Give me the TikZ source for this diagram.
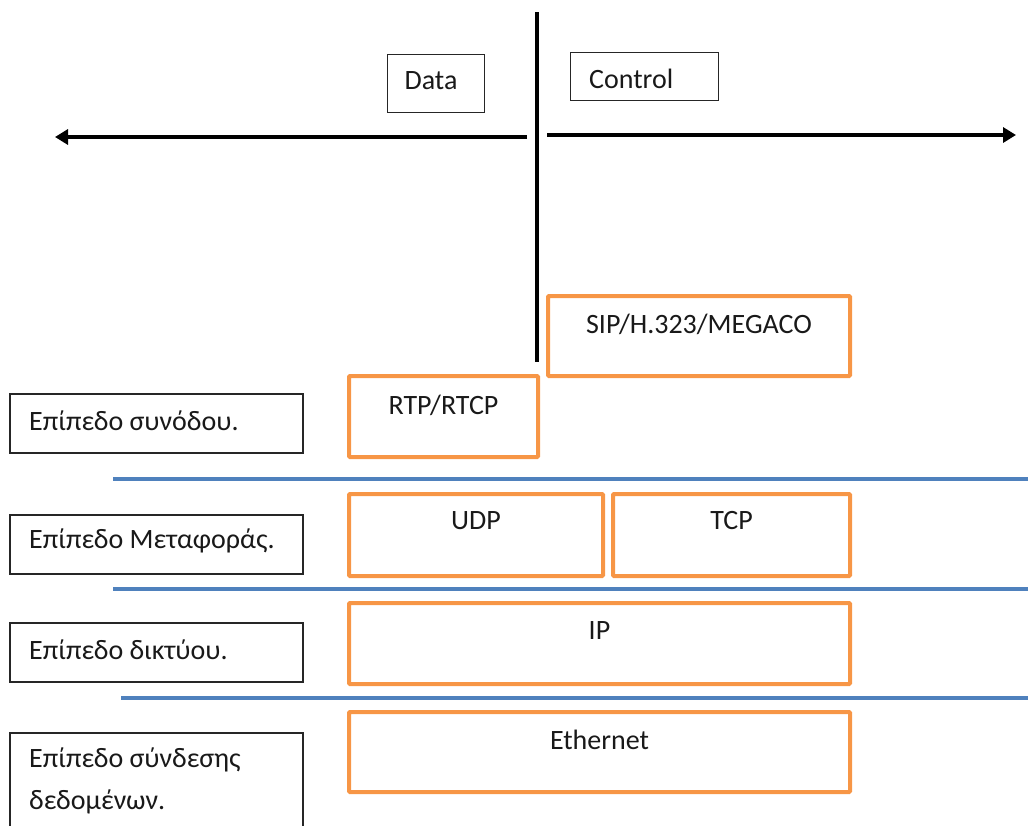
\documentclass[tikz,border=0pt]{standalone}
\usepackage{fontspec}
\setmainfont{Carlito}
\usetikzlibrary{arrows.meta,calc}
\definecolor{lorange}{RGB}{247,150,70}
\definecolor{lblue}{RGB}{79,129,189}
\begin{document}
\begin{tikzpicture}[x=1pt,y=-1pt,
  every node/.style={font=\fontsize{28}{42}\selectfont, text=black!90, inner sep=0pt},
  obox/.style={draw=lorange, line width=4pt, rounded corners=1pt, anchor=north west, inner sep=0pt},
  lbox/.style={draw=black!85, line width=1.5pt, anchor=north west, inner sep=0pt},
  kbox/.style={draw=black!85, line width=1.2pt, anchor=north west, inner sep=0pt},
  blueline/.style={draw=lblue, line width=4pt},
  axis/.style={line width=4pt, -{Triangle[length=13pt,width=15pt]}}]
\useasboundingbox (0,0) rectangle (1028,825);
% top section
\coordinate (vtop) at (537,12);
\coordinate (vbot) at (537,362);
\draw[line width=4pt] (vtop) -- (vbot);
\coordinate (lstart) at (527,137);
\coordinate (lend) at (55,137);
\coordinate (rstart) at (547,135);
\coordinate (rend) at (1016,135);
\draw[axis] (lstart) -- (lend);
\draw[axis] (rstart) -- (rend);
\node[kbox, minimum width=97, minimum height=58] (data) at (387,54) {};
\node at (431,81) {Data};
\node[kbox, minimum width=148, minimum height=48] (ctrl) at (570,52) {};
\node[anchor=west] at (589,79) {Control};
% protocol boxes
\node[obox, minimum width=302, minimum height=80] (sip) at (546,294) {};
\node at ($(sip.north)+(0,30)$) {SIP/H.323/MEGACO};
\node[obox, minimum width=189, minimum height=81] (rtp) at (347,374) {};
\node at ($(rtp.north)+(0,31)$) {RTP/RTCP};
\node[obox, minimum width=254, minimum height=82] (udp) at (347,492) {};
\node at ($(udp.north)+(0,29)$) {UDP};
\node[obox, minimum width=237, minimum height=82] (tcp) at (611,492) {};
\node at ($(tcp.north)+(0,29)$) {TCP};
\node[obox, minimum width=501, minimum height=81] (ip) at (347,601) {};
\node at ($(ip.north)+(0,30)$) {IP};
\node[obox, minimum width=501, minimum height=80] (eth) at (347,710) {};
\node at ($(eth.north)+(0,30)$) {Ethernet};
% blue separators
\coordinate (b1l) at (113,479); \coordinate (b1r) at (1028,479);
\coordinate (b2l) at (113,589); \coordinate (b2r) at (1028,589);
\coordinate (b3l) at (121,698); \coordinate (b3r) at (1028,698);
\draw[blueline] (b1l) -- (b1r);
\draw[blueline] (b2l) -- (b2r);
\draw[blueline] (b3l) -- (b3r);
% layer labels
\node[lbox, minimum width=293, minimum height=59] (l1) at (9,393) {};
\node[anchor=west] at (29,421) {Επίπεδο συνόδου.};
\node[lbox, minimum width=293, minimum height=59] (l2) at (9,514) {};
\node[anchor=west] at (29,541) {Επίπεδο Μεταφοράς.};
\node[lbox, minimum width=293, minimum height=59] (l3) at (9,622) {};
\node[anchor=west] at (29,650) {Επίπεδο δικτύου.};
\node[lbox, minimum width=293, minimum height=110] (l4) at (9,732) {};
\node[anchor=west] at (29,760) {Επίπεδο σύνδεσης};
\node[anchor=west] at (29,802) {δεδομένων.};
\end{tikzpicture}
\end{document}
